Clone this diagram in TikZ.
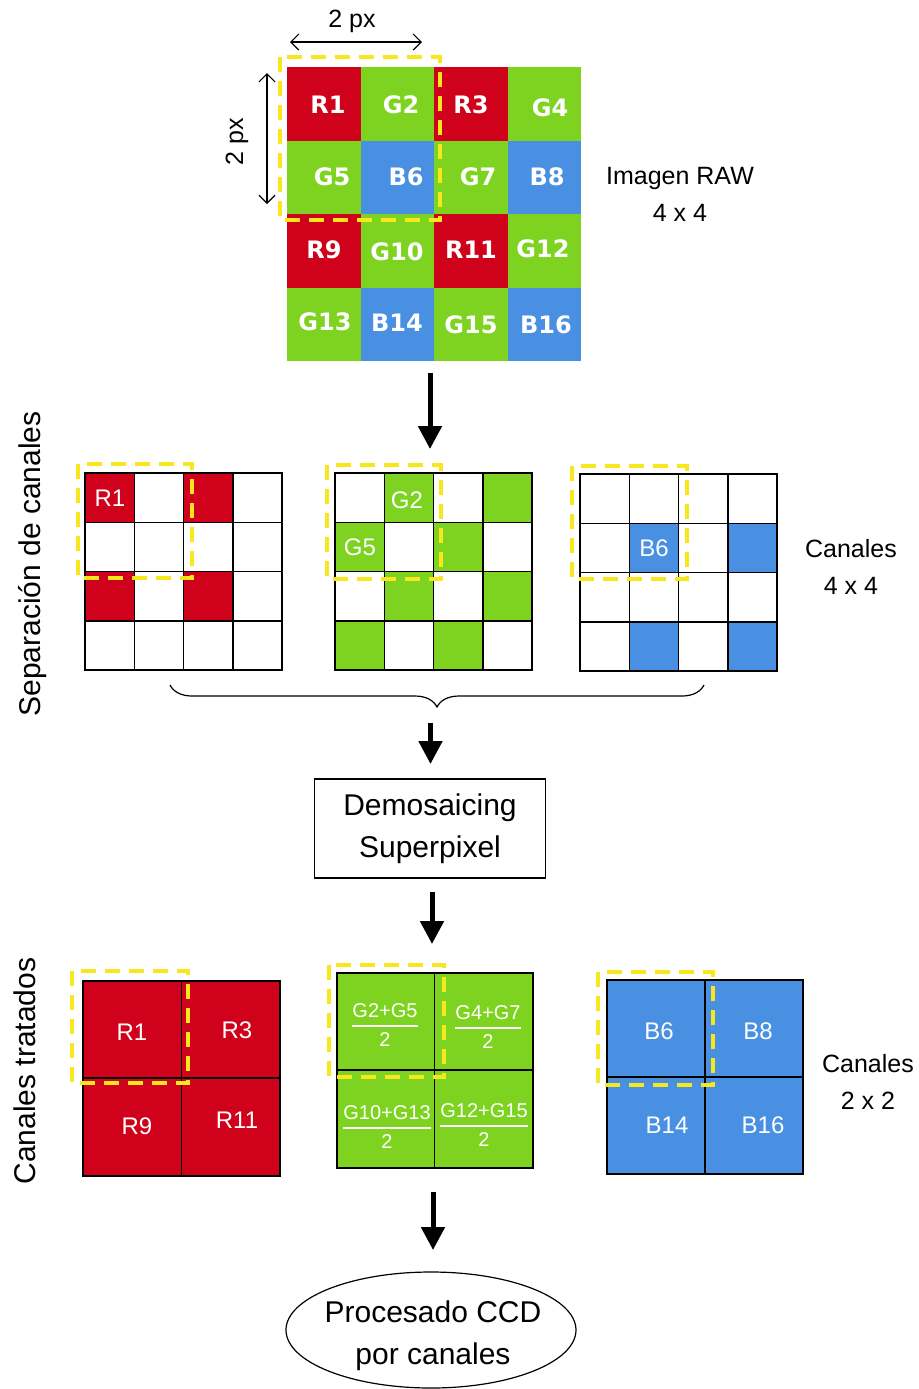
\documentclass[tikz,border=0pt]{standalone}
\usepackage{fontspec}
\setmainfont{Liberation Sans}
\newfontfamily\cellfont{DejaVu Sans}
\usetikzlibrary{arrows.meta,decorations.pathreplacing}

\definecolor{bayerR}{HTML}{D0021B}
\definecolor{bayerG}{HTML}{7ED321}
\definecolor{bayerB}{HTML}{4A90E2}
\definecolor{selyellow}{HTML}{F8E71C}

\tikzset{
  rawlbl/.style={text=white, inner sep=0pt, font=\cellfont\bfseries\fontsize{12}{14}\selectfont},
  chlbl/.style={text=white, inner sep=0pt, font=\fontsize{12}{14}\selectfont},
  fraclbl/.style={text=white, inner sep=0pt, font=\fontsize{10}{12}\selectfont},
  fracline/.style={draw=white, line width=0.6pt},
  sidenote/.style={align=center, inner sep=0pt, font=\fontsize{12.5}{18.5}\selectfont},
  rowtitle/.style={rotate=90, inner sep=0pt, font=\fontsize{15}{18}\selectfont},
  dimlbl/.style={inner sep=0pt, font=\fontsize{12.5}{15}\selectfont},
  stagebox/.style={draw, line width=0.6pt, minimum width=115.75pt, minimum height=49.5pt,
                   align=center, font=\fontsize{15}{21}\selectfont},
  stagetext/.style={align=center, inner sep=0pt, font=\fontsize{15}{21}\selectfont},
  flowarrow/.style={line width=2.5pt, -{Triangle[length=11.5pt,width=11.5pt]}},
  dimarrow/.style={line width=0.6pt, {Straight Barb[length=4pt,width=8pt]}-{Straight Barb[length=4pt,width=8pt]}},
  selbox/.style={draw=selyellow, line width=2.3pt, dash pattern=on 7.5pt off 4.5pt},
  cellline/.style={draw=black, line width=0.8pt},
}

% one fraction (numerator over 2) inside a green cell
\newcommand\gfrac[4]{%
  \node[fraclbl] (#1n) at (#2,#3) {#4};
  \coordinate (#1l) at (#2,#3+15);
  \draw[fracline] (#1n.west |- #1l) -- (#1n.east |- #1l);
  \node[fraclbl] (#1d) at (#2,#3+29) {2};
}

% outline of a 4x4 channel grid with its upper-left corner at (#1,#2)
\newcommand\chgrid[2]{%
  \foreach \i in {0,...,3}
    \foreach \j in {0,...,3}
      \draw[cellline] (#1+\i*49.3,#2+\j*49.3) rectangle ++(49.3,49.3);
}

\begin{document}
\begin{tikzpicture}[x=0.5pt,y=-0.5pt]
\useasboundingbox (0,0) rectangle (918,1389);

% ---------- RAW Bayer mosaic ----------
\begin{scope}[shift={(287,67)}]
  \foreach \c/\r/\k in {0/0/bayerR,1/0/bayerG,2/0/bayerR,3/0/bayerG,
                        0/1/bayerG,1/1/bayerB,2/1/bayerG,3/1/bayerB,
                        0/2/bayerR,1/2/bayerG,2/2/bayerR,3/2/bayerG,
                        0/3/bayerG,1/3/bayerB,2/3/bayerG,3/3/bayerB}
    \fill[\k] (\c*73.5,\r*73.5) rectangle ++(73.5,73.5);
\end{scope}
\foreach \t/\x/\y in {R1/328/105, G2/401/105, R3/471/105, G4/550/108,
                      G5/332/177, B6/406/177, G7/478/177, B8/547/177,
                      R9/324/250, G10/397/252, R11/471/250, G12/543/249,
                      G13/325/322, B14/397/323, G15/471/325, B16/546/325}
  \node[rawlbl] (raw\t) at (\x,\y) {\t};

% pixel size markers
\coordinate (hdimL) at (290,42);
\coordinate (hdimR) at (422,42);
\draw[dimarrow] (hdimL) -- (hdimR);
\node[dimlbl] (hdimtxt) at (352,21) {2 px};
\coordinate (vdimT) at (267,73);
\coordinate (vdimB) at (267,204);
\draw[dimarrow] (vdimT) -- (vdimB);
\node[dimlbl, rotate=90] (vdimtxt) at (237,142) {2 px};

\node[sidenote] (rawnote) at (680,194) {Imagen RAW\\4 x 4};

% superpixel selection on the mosaic
\draw[selbox] (280,57) rectangle (440,220);

% ---------- channel separation ----------
\coordinate (a1s) at (430,373);
\coordinate (a1e) at (430,449);
\draw[flowarrow] (a1s) -- (a1e);

\node[rowtitle] (septitle) at (33,564) {Separación de canales};

% red channel
\foreach \c/\r in {0/0,2/0,0/2,2/2}
  \fill[bayerR] (85+\c*49.3,473+\r*49.3) rectangle ++(49.3,49.3);
\chgrid{85}{473}
\node[chlbl] (chR1) at (110,498) {R1};

% green channel
\foreach \c/\r in {1/0,3/0,0/1,2/1,1/2,3/2,0/3,2/3}
  \fill[bayerG] (335+\c*49.3,473+\r*49.3) rectangle ++(49.3,49.3);
\chgrid{335}{473}
\node[chlbl] (chG2) at (407,500) {G2};
\node[chlbl] (chG5) at (360,547) {G5};

% blue channel
\foreach \c/\r in {1/1,3/1,1/3,3/3}
  \fill[bayerB] (580+\c*49.3,474+\r*49.3) rectangle ++(49.3,49.3);
\chgrid{580}{474}
\node[chlbl] (chB6) at (654,548) {B6};

\node[sidenote] (chnote) at (851,567) {Canales\\4 x 4};

\draw[selbox] (78,464) rectangle (192,578);
\draw[selbox] (327,465) rectangle (441,579);
\draw[selbox] (572,466) rectangle (687,579);

% brace gathering the three channels
\coordinate (braceL) at (170,685);
\coordinate (braceR) at (704,685);
\draw[line width=0.6pt, decorate, decoration={brace, mirror, amplitude=11pt}] (braceL) -- (braceR);

\coordinate (a2s) at (430.5,723);
\coordinate (a2e) at (430.5,764);
\draw[flowarrow] (a2s) -- (a2e);

% ---------- demosaicing stage ----------
\node[stagebox] (demo) at (430,828.5) {Demosaicing\\Superpixel};

\coordinate (a3s) at (432,892);
\coordinate (a3e) at (432,944);
\draw[flowarrow] (a3s) -- (a3e);

% ---------- processed channels ----------
\node[rowtitle] (trattitle) at (25,1071) {Canales tratados};

% red 2x2
\fill[bayerR] (83,981) rectangle (280,1176);
\draw[cellline] (83,981) rectangle (280,1176);
\draw[cellline] (181.5,981) -- (181.5,1176);
\draw[cellline] (83,1078) -- (280,1078);
\node[chlbl] (tR1) at (132,1032) {R1};
\node[chlbl] (tR3) at (237,1030) {R3};
\node[chlbl] (tR9) at (137,1126) {R9};
\node[chlbl] (tR11) at (237,1120) {R11};

% green 2x2
\fill[bayerG] (337,973) rectangle (533,1168);
\draw[cellline] (337,973) rectangle (533,1168);
\draw[cellline] (434.5,973) -- (434.5,1168);
\draw[cellline] (337,1070) -- (533,1070);
\gfrac{fA}{385}{1011}{G2+G5}
\gfrac{fB}{488}{1013}{G4+G7}
\gfrac{fC}{387}{1113}{G10+G13}
\gfrac{fD}{484}{1111}{G12+G15}

% blue 2x2
\fill[bayerB] (607,980) rectangle (803,1174);
\draw[cellline] (607,980) rectangle (803,1174);
\draw[cellline] (705,980) -- (705,1174);
\draw[cellline] (607,1077) -- (803,1077);
\node[chlbl] (tB6) at (659,1031) {B6};
\node[chlbl] (tB8) at (758,1031) {B8};
\node[chlbl] (tB14) at (667,1125) {B14};
\node[chlbl] (tB16) at (763,1125) {B16};

\node[sidenote] (outnote) at (868,1082) {Canales\\2 x 2};

\draw[selbox] (72,971) rectangle (188,1083);
\draw[selbox] (329,965) rectangle (444,1077);
\draw[selbox] (598,972) rectangle (713,1085);

\coordinate (a4s) at (433,1192);
\coordinate (a4e) at (433,1250);
\draw[flowarrow] (a4s) -- (a4e);

% ---------- final stage ----------
\draw[line width=0.6pt] (431,1330) ellipse [x radius=145, y radius=58];
\node[stagetext] (proc) at (433,1336) {Procesado CCD\\por canales};

\end{tikzpicture}
\end{document}
